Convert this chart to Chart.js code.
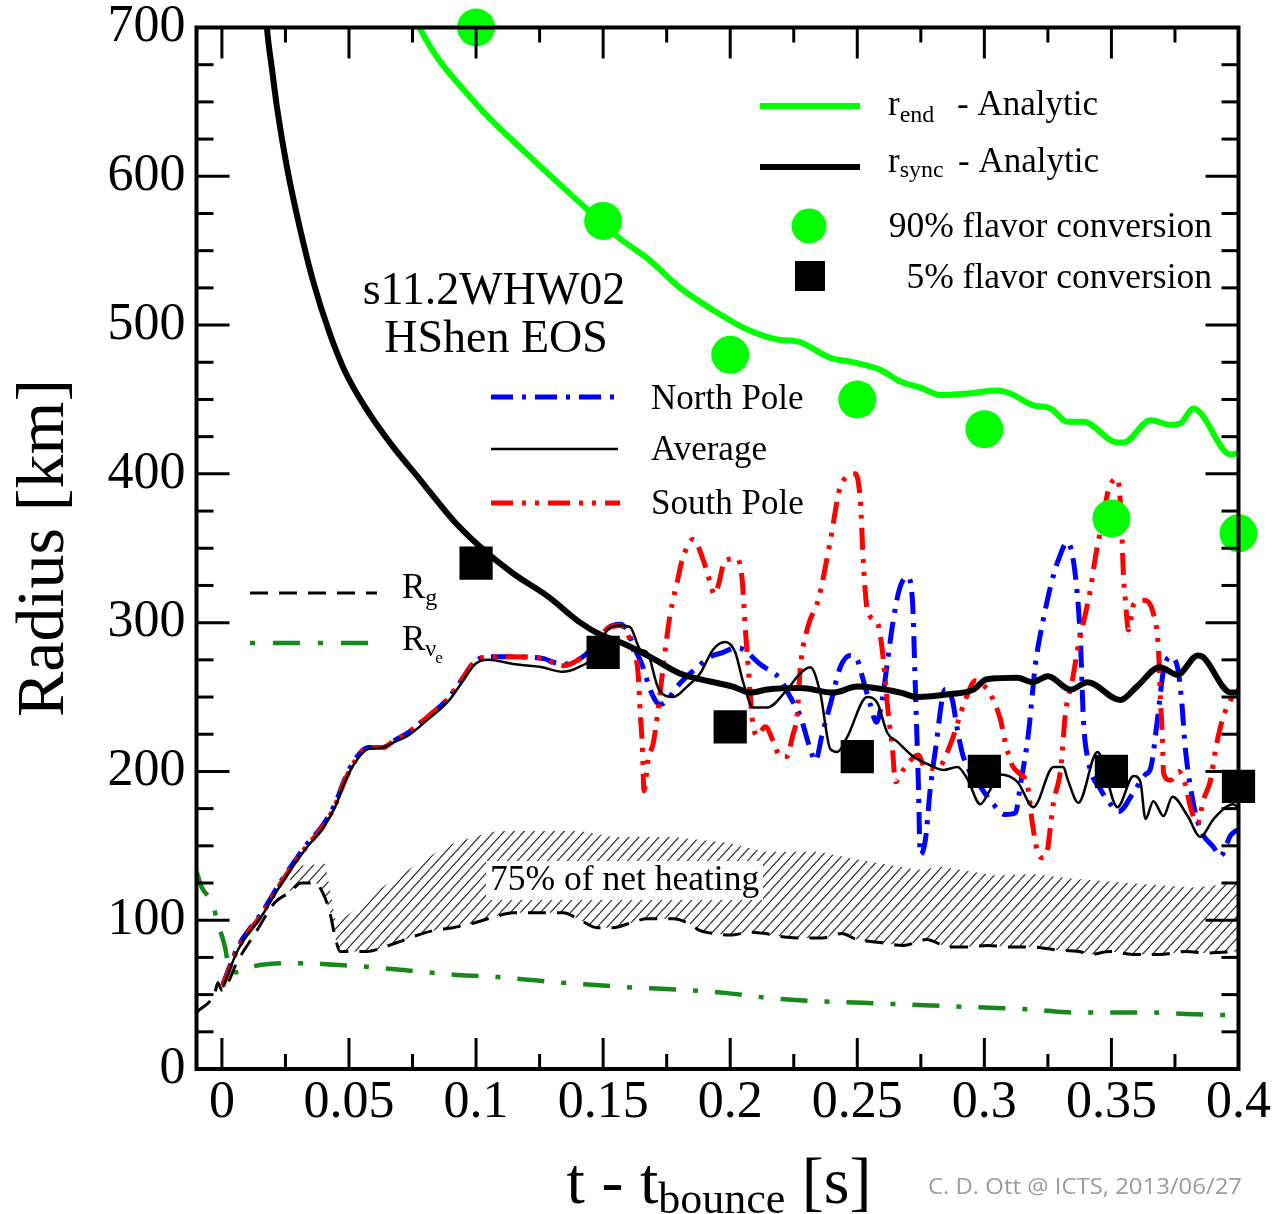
<!DOCTYPE html>
<html>
<head>
<meta charset="utf-8">
<title>Neutrino flavor conversion radii</title>
<script src="https://cdn.jsdelivr.net/npm/chart.js@4.4.1/dist/chart.umd.min.js"></script>
<style>
  html, body { margin: 0; padding: 0; background: #fff; }
  canvas { display: block; }
</style>
</head>
<body>
<canvas id="radiusChart" width="1272" height="1214"></canvas>
<script>
// ---- data: [t - t_bounce (s), radius (km)] ----
const conv90 = [[0.1, 700], [0.15, 570], [0.2, 480], [0.25, 450], [0.3, 430], [0.35, 370], [0.4, 360]];
const conv5 = [[0.1, 340], [0.15, 280], [0.2, 230], [0.25, 210], [0.3, 200], [0.35, 200], [0.4, 190]];

const rSync = [[0.0165, 730], [0.0177, 700], [0.0197, 672], [0.0217, 646], [0.0256, 606], [0.0307, 565], [0.0358, 530],
  [0.0425, 494], [0.0484, 469], [0.0563, 445], [0.0661, 421], [0.078, 396], [0.0909, 369], [0.1016, 351], [0.1146, 333],
  [0.128, 318], [0.141, 300], [0.1488, 292], [0.1579, 286], [0.1685, 277], [0.18, 266], [0.188, 262], [0.201, 257],
  [0.208, 253], [0.2146, 255], [0.2276, 256], [0.2406, 253], [0.25, 257], [0.267, 253], [0.2736, 250], [0.2866, 252],
  [0.2957, 255], [0.301, 262], [0.313, 263], [0.319, 260], [0.325, 264], [0.334, 255], [0.3406, 260], [0.3535, 248],
  [0.36, 257], [0.369, 270], [0.376, 265], [0.384, 278], [0.386, 277], [0.397, 253], [0.4, 253]];

const rEnd = [[0.0764, 706], [0.078, 699], [0.0988, 651], [0.1213, 613], [0.141, 582], [0.1567, 558], [0.1673, 545],
  [0.1803, 525], [0.1933, 510], [0.2067, 497], [0.2197, 490], [0.2264, 489], [0.2394, 478], [0.2484, 475], [0.259, 470],
  [0.267, 462], [0.2748, 458], [0.2827, 453], [0.2933, 454], [0.305, 456], [0.3102, 454], [0.3193, 446], [0.326, 444],
  [0.3327, 435], [0.339, 435], [0.3524, 421], [0.3547, 421], [0.3654, 436], [0.3732, 433], [0.3772, 434], [0.3823, 444],
  [0.385, 441], [0.3969, 413], [0.4, 414]];

const shockAvg = [[0.0004, 55], [0.0063, 80], [0.0157, 103], [0.0236, 125], [0.0339, 150], [0.0394, 161], [0.0445, 176],
  [0.0484, 193], [0.0524, 206], [0.0575, 215], [0.063, 216], [0.0681, 220], [0.0732, 224], [0.0811, 235], [0.089, 247],
  [0.0945, 260], [0.0996, 272], [0.1047, 275], [0.1154, 272], [0.126, 270], [0.1339, 267], [0.1402, 270], [0.1469, 278],
  [0.1516, 295], [0.1567, 298], [0.1606, 297], [0.1646, 282], [0.1673, 280], [0.1717, 256], [0.1776, 250], [0.183, 257],
  [0.1882, 266], [0.1933, 282], [0.198, 287], [0.202, 280], [0.2051, 260], [0.209, 243], [0.2146, 243], [0.2224, 255],
  [0.2276, 266], [0.2315, 270], [0.2354, 253], [0.2394, 215], [0.2421, 213], [0.246, 223], [0.2539, 250], [0.2579, 246],
  [0.2618, 226], [0.2657, 220], [0.272, 210], [0.2776, 205], [0.2839, 201], [0.2894, 203], [0.2933, 195], [0.2984, 178],
  [0.3024, 188], [0.3063, 198], [0.313, 193], [0.3193, 176], [0.3272, 203], [0.3311, 203], [0.3327, 195], [0.337, 179],
  [0.3445, 213], [0.3524, 176], [0.3587, 197], [0.3614, 193], [0.3634, 168], [0.3665, 180], [0.3705, 170], [0.374, 183],
  [0.38, 170], [0.385, 156], [0.3902, 168], [0.398, 178], [0.4, 175]];

const shockNorth = [[0.0004, 57], [0.0063, 82], [0.0157, 105], [0.0236, 127], [0.0339, 152], [0.0394, 163], [0.0445, 178],
  [0.0484, 195], [0.0524, 208], [0.0575, 216], [0.063, 216], [0.0681, 221], [0.0732, 226], [0.0811, 237], [0.089, 249],
  [0.0945, 262], [0.0996, 274], [0.1047, 277], [0.1134, 277], [0.126, 276], [0.1339, 272], [0.1402, 275], [0.1469, 285],
  [0.1516, 296], [0.1567, 299], [0.1594, 295], [0.1618, 285], [0.1657, 270], [0.1685, 255], [0.1724, 245], [0.1752, 248],
  [0.1791, 257], [0.187, 270], [0.1921, 277], [0.1972, 280], [0.202, 283], [0.2051, 282], [0.2118, 272], [0.2197, 262],
  [0.2236, 250], [0.2276, 237], [0.2315, 215], [0.2335, 207], [0.2362, 225], [0.2394, 245], [0.2433, 270], [0.2472, 278],
  [0.25, 275], [0.2524, 261], [0.2551, 245], [0.2575, 233], [0.2598, 248], [0.2622, 278], [0.2642, 302], [0.2665, 322],
  [0.2697, 331], [0.2717, 315], [0.2728, 259], [0.274, 194], [0.2748, 144], [0.2768, 154], [0.2787, 188], [0.2807, 214],
  [0.2846, 255], [0.2874, 248], [0.2894, 228], [0.2917, 210], [0.2984, 190], [0.3035, 178], [0.3083, 171], [0.3122, 172],
  [0.3142, 191], [0.3173, 225], [0.3201, 272], [0.3232, 302], [0.326, 324], [0.3291, 342], [0.3327, 354], [0.3358, 332],
  [0.3378, 288], [0.339, 234], [0.3409, 207], [0.3457, 188], [0.3496, 178], [0.3528, 173], [0.3587, 186], [0.3634, 198],
  [0.3654, 202], [0.3681, 235], [0.3705, 268], [0.3732, 277], [0.376, 270], [0.3776, 248], [0.3791, 215], [0.3823, 178],
  [0.385, 161], [0.3902, 149], [0.3929, 143], [0.3969, 157], [0.4, 161]];

const shockSouth = [[0.0004, 56], [0.0063, 81], [0.0157, 104], [0.0236, 126], [0.0339, 151], [0.0394, 162], [0.0445, 177],
  [0.0484, 194], [0.0524, 207], [0.0575, 216], [0.063, 216], [0.0681, 221], [0.0732, 226], [0.0811, 237], [0.089, 249],
  [0.0945, 262], [0.0996, 274], [0.1047, 277], [0.1134, 277], [0.126, 276], [0.1339, 271], [0.1402, 275], [0.1469, 285],
  [0.1516, 296], [0.1567, 298], [0.1618, 282], [0.1638, 265], [0.1646, 239], [0.1654, 218], [0.1661, 187], [0.1677, 208],
  [0.1697, 219], [0.1713, 237], [0.1736, 270], [0.1756, 297], [0.1772, 313], [0.1791, 327], [0.1811, 342], [0.1854, 356],
  [0.1894, 342], [0.1921, 327], [0.1937, 319], [0.1953, 325], [0.198, 342], [0.2028, 343], [0.2047, 329], [0.2059, 297],
  [0.2071, 270], [0.2087, 235], [0.2106, 224], [0.2138, 230], [0.217, 220], [0.2197, 210], [0.2224, 210], [0.2244, 223],
  [0.2264, 239], [0.2276, 270], [0.2307, 298], [0.2346, 315], [0.2394, 355], [0.2433, 391], [0.2492, 400], [0.2512, 382],
  [0.2524, 340], [0.254, 308], [0.2579, 300], [0.2598, 282], [0.2622, 239], [0.2638, 216], [0.265, 193], [0.2681, 201],
  [0.274, 211], [0.2768, 202], [0.2815, 202], [0.2866, 218], [0.2925, 248], [0.2965, 261], [0.3012, 255], [0.3035, 248],
  [0.3063, 235], [0.3083, 219], [0.311, 204], [0.3142, 198], [0.3169, 191], [0.3189, 165], [0.3209, 146], [0.3228, 142],
  [0.3248, 147], [0.326, 163], [0.3272, 179], [0.33, 201], [0.3319, 239], [0.3346, 261], [0.337, 285], [0.339, 300],
  [0.3417, 322], [0.3437, 344], [0.3465, 369], [0.3488, 389], [0.3524, 397], [0.3539, 369], [0.3547, 333], [0.3555, 315],
  [0.3567, 295], [0.3587, 312], [0.3626, 315], [0.3665, 306], [0.3685, 282], [0.3693, 248], [0.3701, 221], [0.3705, 199],
  [0.3732, 194], [0.3764, 200], [0.3791, 191], [0.3811, 176], [0.3839, 165], [0.3862, 181], [0.389, 194], [0.3909, 214],
  [0.3937, 235], [0.3969, 248], [0.4, 255]];

const gainRadius = [[-0.01, 38], [-0.0028, 51], [-0.0016, 58], [0, 53], [0.0063, 73], [0.013, 91], [0.0209, 112],
  [0.026, 118], [0.0315, 125], [0.0366, 125], [0.0398, 118], [0.0425, 105], [0.0445, 89], [0.0465, 79], [0.0492, 79],
  [0.0571, 79], [0.0622, 81], [0.0689, 85], [0.0752, 89], [0.0831, 93], [0.0909, 95], [0.0988, 98], [0.1067, 102],
  [0.1146, 105], [0.128, 105], [0.1343, 105], [0.141, 100], [0.1476, 95], [0.1539, 95], [0.1606, 98], [0.1673, 101],
  [0.1776, 101], [0.1835, 98], [0.1882, 93], [0.1941, 91], [0.2, 90], [0.2079, 92], [0.2138, 91], [0.2197, 89],
  [0.2287, 88], [0.2362, 88], [0.2437, 91], [0.25, 87], [0.2591, 85], [0.2681, 83], [0.2772, 87], [0.2862, 82],
  [0.2921, 82], [0.3012, 83], [0.3102, 82], [0.3193, 82], [0.3283, 80], [0.3374, 79], [0.3417, 77], [0.3492, 79],
  [0.3583, 77], [0.3689, 77], [0.3795, 79], [0.387, 78], [0.4, 79]];

const nueSphere = [[-0.01, 133], [-0.0079, 122], [-0.0039, 112], [-0.0016, 98], [0.0012, 82], [0.0024, 71], [0.0039, 65],
  [0.0063, 65], [0.0102, 68], [0.0157, 70], [0.0236, 71], [0.0339, 71], [0.0445, 70], [0.0551, 69], [0.0681, 67],
  [0.0811, 65], [0.0945, 63], [0.1075, 62], [0.1205, 60], [0.1339, 58], [0.1469, 56.5], [0.1598, 55], [0.1835, 53],
  [0.1988, 51], [0.2138, 48], [0.2287, 46], [0.2437, 45], [0.2591, 44], [0.274, 43], [0.289, 42], [0.3043, 41],
  [0.3193, 40], [0.3343, 38], [0.3492, 38], [0.3646, 38], [0.3795, 37], [0.4, 36]];

// upper edge of the region holding 75% of the net heating (lower edge is R_g)
const heatingTop = [[0.0268, 136], [0.0406, 138], [0.0425, 121], [0.0445, 101], [0.0492, 103], [0.0622, 121],
  [0.0752, 136], [0.0886, 150], [0.0988, 156], [0.1083, 160], [0.1213, 160], [0.141, 160], [0.1539, 156], [0.1673, 156],
  [0.1776, 156], [0.1988, 152], [0.2138, 146], [0.2346, 146], [0.2528, 140], [0.274, 134], [0.2831, 136], [0.3043, 130],
  [0.3193, 131], [0.3343, 128], [0.3492, 126], [0.3646, 124], [0.3823, 122], [0.3945, 124], [0.4, 126]];

const xTicks = [0, 0.05, 0.1, 0.15, 0.2, 0.25, 0.3, 0.35, 0.4];
const xTickLabels = ['0', '0.05', '0.1', '0.15', '0.2', '0.25', '0.3', '0.35', '0.4'];
const yTicks = [0, 100, 200, 300, 400, 500, 600, 700];
const yTickLabels = ['0', '100', '200', '300', '400', '500', '600', '700'];

// ---- styling ----
const SERIF = '"Liberation Serif", "Times New Roman", Times, serif';
const GREEN = '#00ff00';
const DARK_GREEN = '#17891a';
const DASH_NORTH = [22, 9, 4, 9];
const DASH_SOUTH = [22, 9, 4, 9, 4, 9];
const DASH_RG = [18, 11];
const DASH_NUE = [27, 17, 5, 17];

const pts = arr => arr.map(([x, y]) => ({ x, y }));

function makeHatch(ctx) {
  const tile = document.createElement('canvas');
  tile.width = 10; tile.height = 11;
  const c = tile.getContext('2d');
  c.strokeStyle = '#333';
  c.lineWidth = 1.2;
  for (const off of [-10, 0, 10]) {
    c.beginPath();
    c.moveTo(off, 11);
    c.lineTo(off + 10, 0);
    c.stroke();
  }
  return ctx.createPattern(tile, 'repeat');
}

function seg(ctx, x1, y1, x2, y2) {
  ctx.beginPath(); ctx.moveTo(x1, y1); ctx.lineTo(x2, y2); ctx.stroke();
}

function legendLine(ctx, x1, x2, y, color, width, dash) {
  ctx.save();
  ctx.strokeStyle = color; ctx.lineWidth = width; ctx.setLineDash(dash);
  seg(ctx, x1, y, x2, y);
  ctx.restore();
}

function runs(ctx, x, base, parts) {
  let cx = x;
  for (const p of parts) {
    ctx.font = p.size + 'px ' + SERIF;
    ctx.fillText(p.t, cx, base + (p.dy || 0));
    cx += ctx.measureText(p.t).width;
  }
  return cx;
}

function runsWidth(ctx, parts) {
  let w = 0;
  for (const p of parts) { ctx.font = p.size + 'px ' + SERIF; w += ctx.measureText(p.t).width; }
  return w;
}

// frame with inward ticks on all four sides, drawn over the data
const framePlugin = {
  id: 'frame',
  afterDatasetsDraw(chart) {
    const { ctx, chartArea: { left, right, top, bottom }, scales: { x, y } } = chart;
    ctx.save();
    // box around the text in the heating band
    ctx.fillStyle = '#fff';
    ctx.fillRect(486, 861, 277, 39);
    ctx.fillStyle = '#000';
    ctx.textBaseline = 'alphabetic';
    ctx.font = '35.5px ' + SERIF;
    ctx.fillText('75% of net heating', 490, 890);

    ctx.strokeStyle = '#000';
    ctx.lineWidth = 3;
    for (let k = 0; k <= 16; k++) {
      const px = x.getPixelForValue(k * 0.025);
      const L = k % 2 === 0 ? 31 : 15;
      seg(ctx, px, bottom, px, bottom - L);
      seg(ctx, px, top, px, top + L);
    }
    for (let k = 0; k <= 28; k++) {
      const py = y.getPixelForValue(k * 25);
      const L = k % 4 === 0 ? 33 : 17;
      seg(ctx, left, py, left + L, py);
      seg(ctx, right, py, right - L, py);
    }
    ctx.lineWidth = 4;
    ctx.strokeRect(left, top, right - left, bottom - top);
    ctx.restore();
  },
  afterDraw(chart) {
    const ctx = chart.ctx;
    ctx.save();
    ctx.fillStyle = '#000';
    ctx.textBaseline = 'alphabetic';

    // axis titles
    ctx.save();
    ctx.translate(63, 548);
    ctx.rotate(-Math.PI / 2);
    ctx.textAlign = 'center';
    ctx.font = '68px ' + SERIF;
    ctx.fillText('Radius [km]', 0, 0);
    ctx.restore();

    const xTitle = [{ t: 't - t', size: 66 }, { t: 'bounce', size: 44, dy: 10 }, { t: ' [s]', size: 66 }];
    const wT = runsWidth(ctx, xTitle);
    runs(ctx, 719 - wT / 2, 1203, xTitle);

    // model labels
    ctx.textAlign = 'center';
    ctx.font = '46px ' + SERIF;
    ctx.fillText('s11.2WHW02', 494, 304);
    ctx.fillText('HShen EOS', 496, 352);
    ctx.textAlign = 'left';

    // legend: analytic radii and conversion markers
    legendLine(ctx, 760, 860, 106, GREEN, 6, []);
    legendLine(ctx, 760, 860, 167, '#000', 6, []);
    runs(ctx, 888, 115, [{ t: 'r', size: 35 }, { t: 'end', size: 24, dy: 7 }]);
    runs(ctx, 957, 115, [{ t: '- Analytic', size: 35 }]);
    runs(ctx, 888, 172, [{ t: 'r', size: 35 }, { t: 'sync', size: 24, dy: 5 }]);
    runs(ctx, 958, 172, [{ t: '- Analytic', size: 35 }]);
    ctx.fillStyle = GREEN;
    ctx.beginPath(); ctx.arc(809, 226, 17.5, 0, Math.PI * 2); ctx.fill();
    ctx.fillStyle = '#000';
    ctx.fillRect(795, 261, 30, 30);
    ctx.textAlign = 'right';
    ctx.font = '35.5px ' + SERIF;
    ctx.fillText('90% flavor conversion', 1212, 237);
    ctx.fillText('5% flavor conversion', 1212, 288);
    ctx.textAlign = 'left';

    // legend: shock radius directions
    legendLine(ctx, 491, 620, 397, '#0000ff', 5, DASH_NORTH);
    legendLine(ctx, 491, 618, 449, '#000', 2.5, []);
    legendLine(ctx, 491, 620, 503, '#ff0000', 5, DASH_SOUTH);
    ctx.font = '35px ' + SERIF;
    ctx.fillText('North Pole', 651, 409);
    ctx.fillText('Average', 651, 460);
    ctx.fillText('South Pole', 651, 514);

    // legend: gain radius and neutrinosphere
    legendLine(ctx, 250, 377, 593, '#000', 3, DASH_RG);
    legendLine(ctx, 250, 370, 643, DARK_GREEN, 4.5, [5, 18, 27, 18]);
    runs(ctx, 402, 598, [{ t: 'R', size: 35 }, { t: 'g', size: 24, dy: 7 }]);
    const xe = runs(ctx, 402, 650, [{ t: 'R', size: 35 }, { t: 'ν', size: 24, dy: 6 }]);
    runs(ctx, xe - 1, 650, [{ t: 'e', size: 17, dy: 13 }]);

    // credit line
    ctx.fillStyle = '#9b9b9b';
    ctx.font = '20px "Open Sans", "DejaVu Sans", sans-serif';
    const credit = 'C. D. Ott @ ICTS, 2013/06/27';
    const wc = ctx.measureText(credit).width;
    ctx.save();
    ctx.translate(928, 1194);
    ctx.scale(314 / wc, 1.05);
    ctx.fillText(credit, 0, 0);
    ctx.restore();

    ctx.restore();
  }
};

const whiteBg = {
  id: 'whiteBg',
  beforeDraw(chart) {
    const c = chart.ctx;
    c.save(); c.fillStyle = '#fff'; c.fillRect(0, 0, chart.width, chart.height); c.restore();
  }
};

// keep the plot box fixed: no extra room reserved for overhanging edge labels
function noOverhang(s) {
  s.paddingLeft = 0; s.paddingRight = 0; s.paddingTop = 0; s.paddingBottom = 0;
}

function build() {
  const canvas = document.getElementById('radiusChart');
  const ctx = canvas.getContext('2d');
  const hatch = makeHatch(ctx);
  const line = (data, color, width, dash) => ({
    data: pts(data), borderColor: color, borderWidth: width, borderDash: dash,
    pointRadius: 0, fill: false, cubicInterpolationMode: 'monotone'
  });

  new Chart(ctx, {
    type: 'line',
    data: {
      datasets: [
        { label: '5% flavor conversion', data: pts(conv5), showLine: false, pointStyle: 'rect', pointRadius: 23.5,
          pointBackgroundColor: '#000', pointBorderWidth: 0, clip: false },
        { label: '90% flavor conversion', data: pts(conv90), showLine: false, pointStyle: 'circle', pointRadius: 19,
          pointBackgroundColor: GREEN, pointBorderWidth: 0, clip: false },
        { label: 'r_sync - Analytic', ...line(rSync, '#000', 6, []) },
        { label: 'r_end - Analytic', ...line(rEnd, GREEN, 6, []) },
        { label: 'Average', ...line(shockAvg, '#000', 2.5, []) },
        { label: 'South Pole', ...line(shockSouth, '#ff0000', 5, DASH_SOUTH) },
        { label: 'North Pole', ...line(shockNorth, '#0000ff', 5, DASH_NORTH) },
        { label: 'R_g', ...line(gainRadius, '#000', 3, DASH_RG) },
        { label: 'R_nue', ...line(nueSphere, DARK_GREEN, 4.5, DASH_NUE) },
        { label: '75% of net heating', data: pts(heatingTop), borderColor: 'rgba(0,0,0,0)', borderWidth: 0,
          pointRadius: 0, tension: 0, fill: { target: 7 }, backgroundColor: hatch }
      ]
    },
    options: {
      responsive: false,
      animation: false,
      events: [],
      layout: { padding: { left: 0, top: 27.5, right: 33.5, bottom: 0 } },
      plugins: { legend: { display: false }, tooltip: { enabled: false }, filler: { propagate: false } },
      scales: {
        x: {
          type: 'linear', min: -0.01, max: 0.4,
          grid: { display: false, drawTicks: false }, border: { display: false },
          afterBuildTicks: s => { s.ticks = xTicks.map(v => ({ value: v })); },
          afterFit: s => { s.height = 145; noOverhang(s); },
          ticks: { autoSkip: false, maxRotation: 0, padding: 8, color: '#000',
            font: { family: SERIF, size: 52, lineHeight: 1 }, callback: (v, i) => xTickLabels[i] }
        },
        y: {
          type: 'linear', min: 0, max: 700,
          grid: { display: false, drawTicks: false }, border: { display: false },
          afterBuildTicks: s => { s.ticks = yTicks.map(v => ({ value: v })); },
          afterFit: s => { s.width = 196.5; noOverhang(s); },
          ticks: { padding: 11, color: '#000',
            font: { family: SERIF, size: 52, lineHeight: 1 }, callback: (v, i) => yTickLabels[i] }
        }
      }
    },
    plugins: [whiteBg, framePlugin]
  });
}

if (document.fonts && document.fonts.load) {
  Promise.all([
    document.fonts.load('52px "Liberation Serif"'),
    document.fonts.load('20px "Open Sans"')
  ]).then(build, build);
} else {
  build();
}
</script>
</body>
</html>
